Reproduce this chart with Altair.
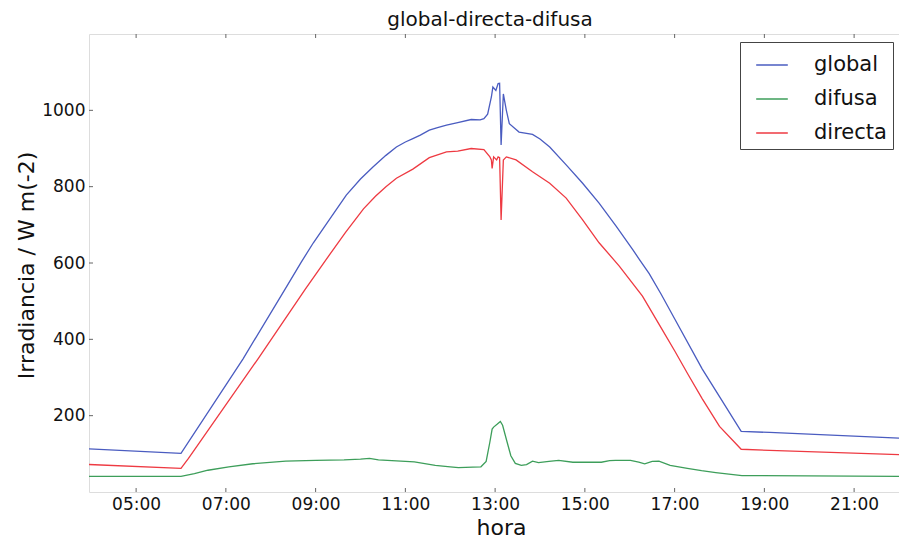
import altair as alt
import pandas as pd

# ---- data ----
global_t = ["03:57","06:00","07:23","08:19","08:41","08:57","09:20","09:41","10:00","10:17",
            "10:34","10:48","11:00",
            "11:10","11:20","11:32","11:43","11:55","12:10","12:28","12:40","12:45",
            "12:50","12:55","12:57","13:01","13:04","13:06","13:08","13:11","13:15","13:19",
            "13:28","13:32","13:50","14:00","14:13","14:35","14:57","15:19","15:42","16:04",
            "16:13","16:26","16:42","17:00","17:37","18:00","18:29","19:07","22:00"]
global_v = [113,101,349,531,603,653,718,778,820,852,
            882,904,917,
            926,935,948,955,961,968,976,975,978,
            990,1035,1061,1052,1070,1071,909,1043,1000,965,
            950,943,937,925,904,857,809,757,696,635,
            609,572,518,454,322,250,159,156,141]

directa_t = ["03:57","06:00","06:10","07:43","08:46","09:14","09:40","10:04","10:20","10:34",
             "10:48","11:10",
             "11:32","11:55","12:10","12:28","12:45","12:53",
             "12:55","12:56","12:58","13:02","13:04","13:06","13:08","13:11","13:15","13:28",
             "13:50","14:13","14:35","14:57","15:19","15:46","16:17","16:42","17:00",
             "17:18","17:37","18:00","18:29","19:07","22:00"]
directa_v = [72,62,88,349,531,609,680,742,775,800,
             822,846,
             876,891,893,900,897,878,
             870,848,878,870,878,876,713,870,878,870,
             839,809,770,713,653,592,513,430,370,
             308,244,172,112,109,98]

difusa_t = ["03:57","06:00","06:18","06:36","07:04","07:36","08:20","09:00","09:38","10:00",
            "10:12","10:24","10:54","11:12","11:40","12:00","12:11","12:30","12:41","12:48",
            "12:53","12:56","12:58","13:03","13:07","13:10","13:16","13:21","13:27","13:35",
            "13:42","13:50","13:58","14:12","14:25","14:44","15:00","15:22","15:33","15:41",
            "16:01","16:12","16:20","16:30","16:39","16:54","17:17","17:36","17:55","18:30","22:00"]
difusa_v = [41,41,48,57,66,74,81,83,84,86,
            88,84,81,79,70,66,64,65,66,80,
            131,165,170,178,185,175,131,95,75,70,
            72,81,77,80,83,78,78,78,82,83,
            83,78,74,80,81,70,62,56,51,43,41]

series_names = ["global", "difusa", "directa"]
series_colors = ["#4a5cc0", "#3d9e5a", "#ee3a42"]
x_ticks = [5, 7, 9, 11, 13, 15, 17, 19, 21]
y_ticks = [200, 400, 600, 800, 1000]


def hours(s):
    hh, mm = s.split(":")
    return int(hh) + int(mm) / 60.0


rows = []
for name, ts, vs in [("global", global_t, global_v),
                     ("difusa", difusa_t, difusa_v),
                     ("directa", directa_t, directa_v)]:
    for t, v in zip(ts, vs):
        rows.append({"serie": name, "hora": hours(t), "valor": v})
df = pd.DataFrame(rows)

W, H = 810, 458
FONT = "DejaVu Sans"
x_scale = alt.Scale(domain=[hours("03:57"), 22.0], nice=False, zero=False)
y_scale = alt.Scale(domain=[0, 1200], nice=False, zero=False)

lines = alt.Chart(df).mark_line(strokeWidth=1.3, clip=True).encode(
    x=alt.X("hora:Q", scale=x_scale,
            axis=alt.Axis(values=x_ticks, title="hora", grid=False, domain=False,
                          ticks=False, labelPadding=4, labelFontSize=17, labelFont=FONT,
                          labelColor="#111",
                          labelExpr="(datum.value < 10 ? '0' : '') + datum.value + ':00'",
                          titleFontSize=22, titleFont=FONT, titleFontWeight="normal",
                          titleColor="#111", titleX=412, titleY=42,
                          titleBaseline="alphabetic")),
    y=alt.Y("valor:Q", scale=y_scale,
            axis=alt.Axis(values=y_ticks, format="d", title="Irradiancia / W m(-2)",
                          grid=False, domain=False, ticks=False, labelPadding=4,
                          labelFontSize=17, labelFont=FONT, labelColor="#111",
                          titleFontSize=22, titleFont=FONT, titleFontWeight="normal",
                          titleColor="#111", titleX=-56, titleY=231,
                          titleBaseline="alphabetic")),
    color=alt.Color("serie:N",
                    scale=alt.Scale(domain=series_names, range=series_colors),
                    sort=series_names,
                    legend=alt.Legend(title=None, orient="none", legendX=651, legendY=8,
                                      symbolType="stroke", symbolSize=1000,
                                      symbolStrokeWidth=1.5, symbolOffset=9,
                                      labelFontSize=21, labelFont=FONT, labelColor="#111",
                                      labelOffset=25, rowPadding=7, padding=6,
                                      strokeColor="#444", fillColor="white",
                                      cornerRadius=0)),
)

xt = pd.DataFrame({"t": x_ticks})
yt = pd.DataFrame({"v": y_ticks})
tick_col = "#666"
xb = alt.Chart(xt).mark_rule(color=tick_col, strokeWidth=1).encode(
    x=alt.X("t:Q", scale=x_scale), y=alt.value(H), y2=alt.value(H - 4))
xtop = alt.Chart(xt).mark_rule(color=tick_col, strokeWidth=1).encode(
    x=alt.X("t:Q", scale=x_scale), y=alt.value(0), y2=alt.value(4))
yl = alt.Chart(yt).mark_rule(color=tick_col, strokeWidth=1).encode(
    y=alt.Y("v:Q", scale=y_scale), x=alt.value(0), x2=alt.value(4))

chart = alt.layer(xb, xtop, yl, lines).properties(
    width=W, height=H,
    title=alt.TitleParams("global-directa-difusa", fontSize=20, font=FONT,
                          fontWeight="normal", color="#111", anchor="middle",
                          dx=-4, offset=4),
    autosize=alt.AutoSizeParams(type="none"),
    padding={"left": 89, "top": 34, "right": 0, "bottom": 48},
).configure_view(stroke="#333", strokeWidth=1).configure(background="white")

chart.save("out.html", embed_options={"renderer": "svg", "actions": False})
